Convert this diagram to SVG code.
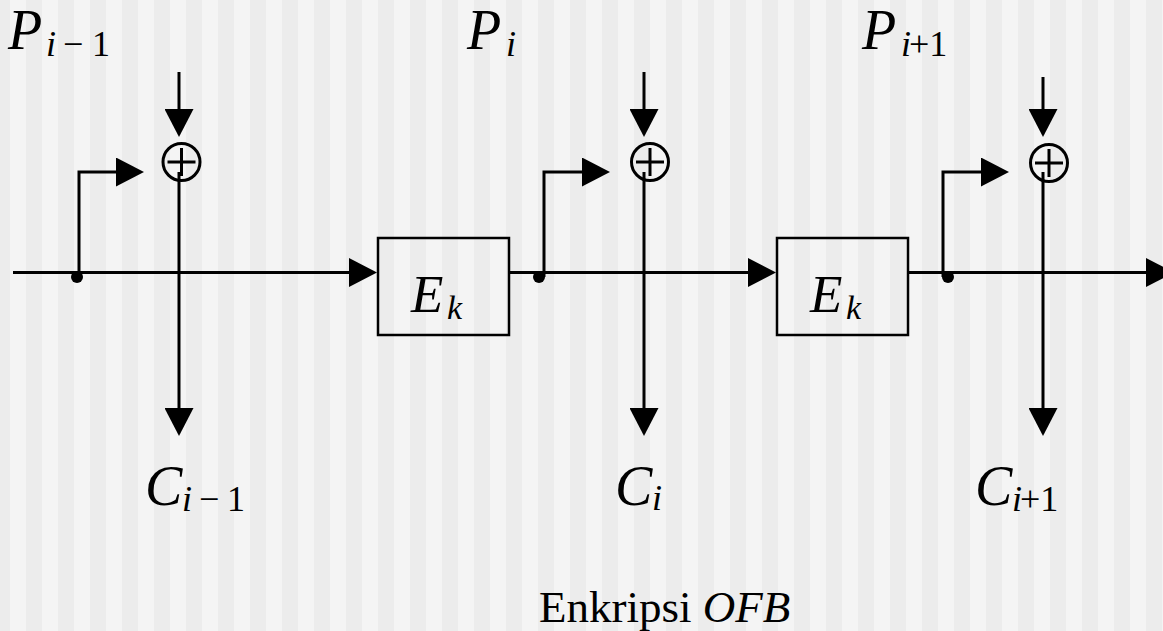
<svg xmlns="http://www.w3.org/2000/svg" width="1163" height="631" viewBox="0 0 1163 631">
  <defs>
    <pattern id="stripes" patternUnits="userSpaceOnUse" x="10" y="0" width="32" height="631">
      <rect x="0" y="0" width="16" height="631" fill="#f4f4f4"/>
      <rect x="16" y="0" width="16" height="631" fill="#ececec"/>
    </pattern>
    <marker id="arrow" markerUnits="userSpaceOnUse" viewBox="0 0 28 29" refX="1" refY="14.5" markerWidth="28" markerHeight="29" orient="auto">
      <path d="M0,0 L28,14.5 L0,29 Z" fill="#000"/>
    </marker>
    <style>
      .wire { fill: none; stroke: #000; stroke-width: 3; }
      .arr { marker-end: url(#arrow); }
      .box { fill: none; stroke: #000; stroke-width: 2.5; }
      .dot { fill: #000; }
      .xor { fill: none; stroke: #000; stroke-width: 3; }
      .t { font-family: "Liberation Serif", "Times New Roman", serif; fill: #000; }
      .it { font-style: italic; }
      .main { font-size: 56px; }
      .sub { font-size: 36px; }
      .ek { font-size: 53px; }
      .eks { font-size: 34px; }
      .cap { font-size: 45px; }
    </style>
  </defs>

  <rect x="0" y="0" width="1163" height="631" fill="url(#stripes)"/>

  <!-- connectors -->
  <g id="connectors">
    <!-- feedback chain through the cipher blocks -->
    <path class="wire arr" d="M13,272.5 H350"/>
    <path class="wire arr" d="M509,272.5 H749"/>
    <path class="wire arr" d="M908,272.5 H1147"/>
    <!-- keystream taps to the XOR -->
    <path class="wire arr" d="M79,277 V172 H117"/>
    <path class="wire arr" d="M544,277 V172 H583"/>
    <path class="wire arr" d="M943,277 V172 H982"/>
    <!-- plaintext inputs -->
    <path class="wire arr" d="M179,72 V110"/>
    <path class="wire arr" d="M644,72 V110"/>
    <path class="wire arr" d="M1043,77 V110"/>
    <!-- ciphertext outputs -->
    <path class="wire arr" d="M179,172 V409"/>
    <path class="wire arr" d="M644,172 V409"/>
    <path class="wire arr" d="M1043,172 V409"/>
    <circle class="dot" cx="77" cy="277" r="6"/>
    <circle class="dot" cx="539" cy="277" r="6"/>
    <circle class="dot" cx="948" cy="277" r="6"/>
  </g>

  <!-- XOR nodes -->
  <g id="xor1">
    <circle class="xor" cx="181.5" cy="162" r="18.5"/>
    <path class="xor" d="M167.5,162 H195.5 M181.5,148 V176"/>
  </g>
  <g id="xor2">
    <circle class="xor" cx="650" cy="162" r="18.5"/>
    <path class="xor" d="M636,162 H664 M650,148 V176"/>
  </g>
  <g id="xor3">
    <circle class="xor" cx="1049" cy="163" r="18.5"/>
    <path class="xor" d="M1035,163 H1063 M1049,149 V177"/>
  </g>

  <!-- cipher blocks -->
  <g id="enc1">
    <rect class="box" x="378" y="238" width="131" height="97"/>
    <text class="t it ek" x="411" y="312">E</text>
    <text class="t it eks" x="447" y="319">k</text>
  </g>
  <g id="enc2">
    <rect class="box" x="777" y="238" width="131" height="97"/>
    <text class="t it ek" x="810" y="312">E</text>
    <text class="t it eks" x="846" y="319">k</text>
  </g>

  <!-- plaintext labels -->
  <g id="p1">
    <text class="t it main" x="8" y="49">P</text>
    <text class="t sub" x="46" y="56"><tspan class="it">i</tspan><tspan x="63">−</tspan><tspan x="92">1</tspan></text>
  </g>
  <g id="p2">
    <text class="t it main" x="467" y="49">P</text>
    <text class="t it sub" x="506" y="56">i</text>
  </g>
  <g id="p3">
    <text class="t it main" x="862" y="49">P</text>
    <text class="t sub" x="901" y="56"><tspan class="it">i</tspan><tspan x="909">+1</tspan></text>
  </g>

  <!-- ciphertext labels -->
  <g id="c1">
    <text class="t it main" x="145" y="505">C</text>
    <text class="t sub" x="182" y="511"><tspan class="it">i</tspan><tspan x="199">−</tspan><tspan x="227">1</tspan></text>
  </g>
  <g id="c2">
    <text class="t it main" x="615" y="505">C</text>
    <text class="t it sub" x="652" y="510">i</text>
  </g>
  <g id="c3">
    <text class="t it main" x="975" y="505">C</text>
    <text class="t sub" x="1012" y="511"><tspan class="it">i</tspan><tspan x="1020">+1</tspan></text>
  </g>

  <!-- caption -->
  <text id="caption" class="t cap" x="539" y="622">Enkripsi <tspan class="it">OFB</tspan></text>
</svg>
